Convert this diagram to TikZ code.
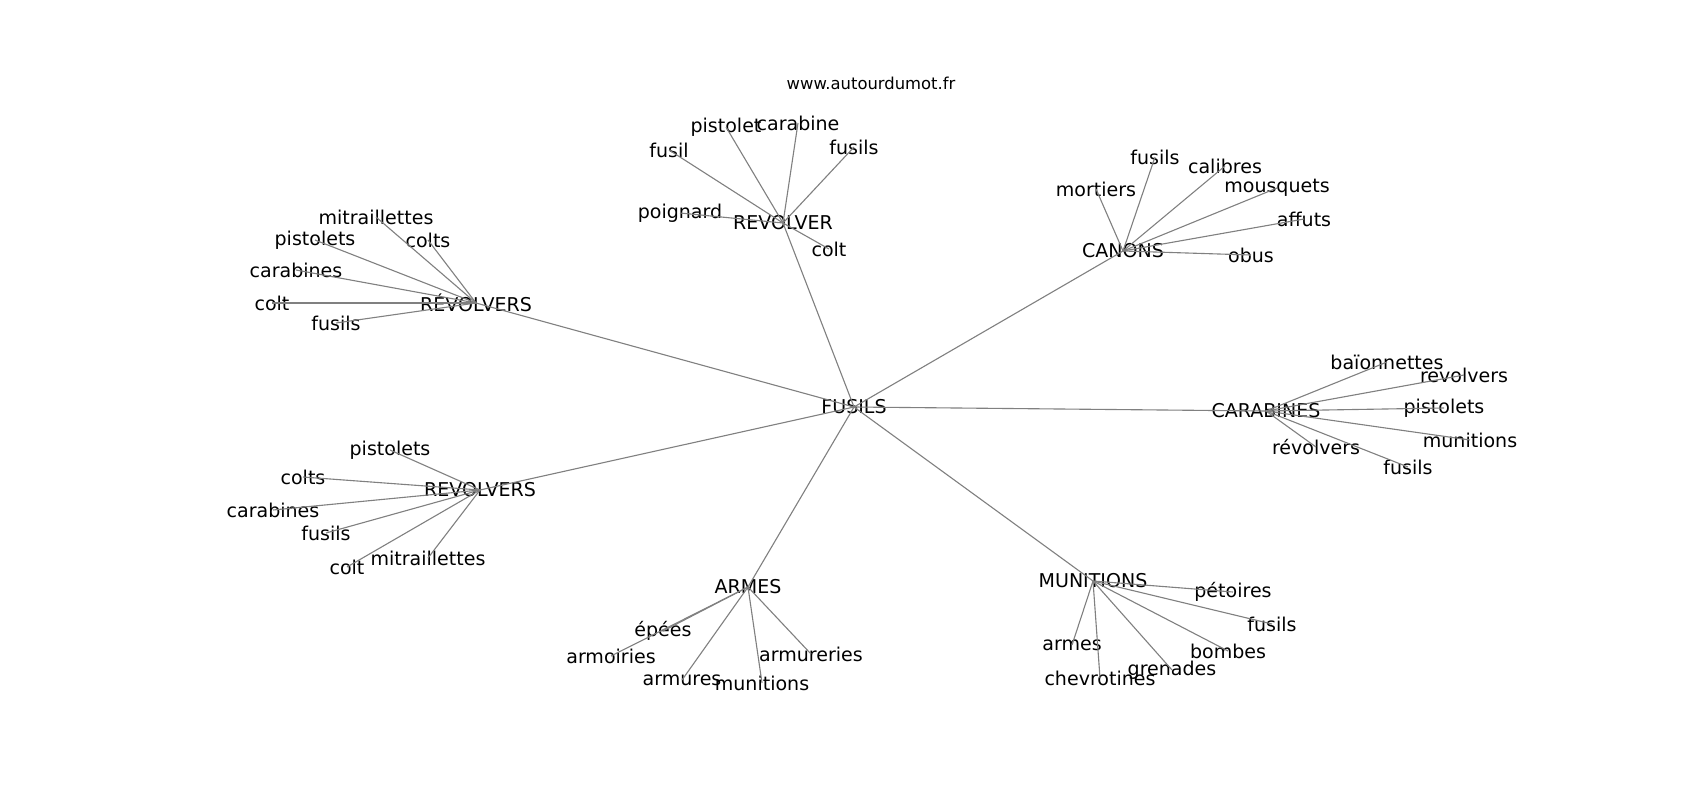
\documentclass[tikz,border=0pt]{standalone}
\usepackage{fontspec}
\setmainfont{DejaVu Sans}
\usepackage{tikz}

\tikzset{
  word/.style={inner sep=0pt, font=\fontsize{13.7}{16}\selectfont},
  link/.style={draw=gray, line width=0.8pt}
}

\begin{document}
\begin{tikzpicture}[x=0.72pt, y=-0.72pt]
\useasboundingbox (0,0) rectangle (1700,800);
\node[inner sep=0pt, font=\fontsize{11.8}{14}\selectfont] (site) at (871,83) {www.autourdumot.fr};

% hubs
\node[word] (fus) at (854,407) {FUSILS};
\node[word] (revA) at (476,303) {RÉVOLVERS};
\node[word] (revB) at (480,490) {REVOLVERS};
\node[word] (rev) at (783,223) {REVOLVER};
\node[word] (can) at (1123,251) {CANONS};
\node[word] (car) at (1266,411) {CARABINES};
\node[word] (mun) at (1093,581) {MUNITIONS};
\node[word] (arm) at (748,587) {ARMES};

% RÉVOLVERS
\node[word] (revA1) at (376,217) {mitraillettes};
\node[word] (revA2) at (315,240) {pistolets};
\node[word] (revA3) at (428,240) {colts};
\node[word] (revA4) at (296,270) {carabines};
\node[word] (revA5) at (272,303) {colt};
\node[word] (revA6) at (336,323) {fusils};

% REVOLVERS
\node[word] (revB1) at (390,450) {pistolets};
\node[word] (revB2) at (303,477) {colts};
\node[word] (revB3) at (273,510) {carabines};
\node[word] (revB4) at (326,533) {fusils};
\node[word] (revB5) at (347,567) {colt};
\node[word] (revB6) at (428,558) {mitraillettes};

% REVOLVER
\node[word] (rev1) at (726,127) {pistolet};
\node[word] (rev2) at (798,123) {carabine};
\node[word] (rev3) at (669,150) {fusil};
\node[word] (rev4) at (854,147) {fusils};
\node[word] (rev5) at (680,213) {poignard};
\node[word] (rev6) at (829,249) {colt};

% CANONS
\node[word] (can1) at (1155,157) {fusils};
\node[word] (can2) at (1225,166) {calibres};
\node[word] (can3) at (1096,189) {mortiers};
\node[word] (can4) at (1277,188) {mousquets};
\node[word] (can5) at (1304,219) {affuts};
\node[word] (can6) at (1251,255) {obus};

% CARABINES
\node[word] (car1) at (1387,362) {baïonnettes};
\node[word] (car2) at (1464,375) {revolvers};
\node[word] (car3) at (1444,408) {pistolets};
\node[word] (car4) at (1470,440) {munitions};
\node[word] (car5) at (1316,447) {révolvers};
\node[word] (car6) at (1408,467) {fusils};

% MUNITIONS
\node[word] (mun1) at (1233,592) {pétoires};
\node[word] (mun2) at (1272,624) {fusils};
\node[word] (mun3) at (1072,645) {armes};
\node[word] (mun4) at (1228,651) {bombes};
\node[word] (mun5) at (1172,670) {grenades};
\node[word] (mun6) at (1100,678) {chevrotines};

% ARMES
\node[word] (arm1) at (663,631) {épées};
\node[word] (arm2) at (611,656) {armoiries};
\node[word] (arm3) at (682,680) {armures};
\node[word] (arm4) at (762,683) {munitions};
\node[word] (arm5) at (811,654) {armureries};

% links
\foreach \h in {revA,revB,rev,can,car,mun,arm}
  \draw[link] (fus.center) -- (\h.center);
\foreach \h in {revA,revB,rev,can,car,mun}
  \foreach \i in {1,...,6}
    \draw[link] (\h.center) -- (\h\i.center);
\foreach \i in {1,...,5}
  \draw[link] (arm.center) -- (arm\i.center);
\end{tikzpicture}
\end{document}
